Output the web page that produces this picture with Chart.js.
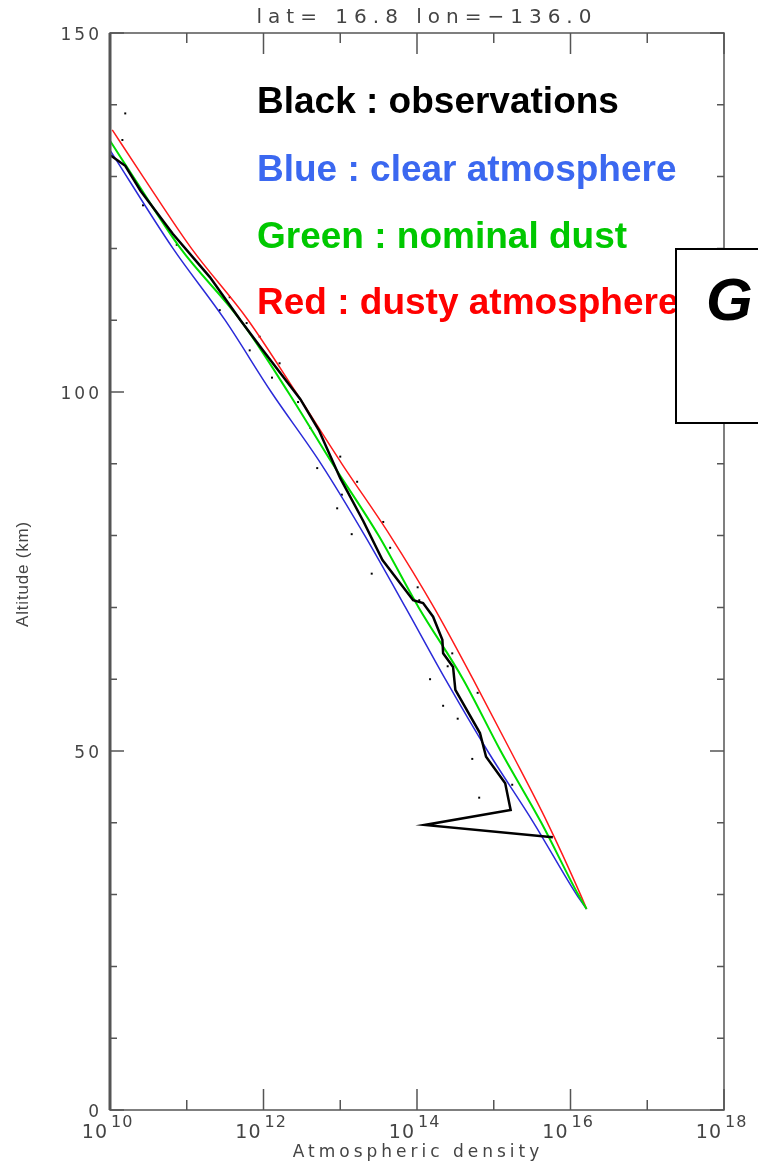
<!DOCTYPE html>
<html>
<head>
<meta charset="utf-8">
<script src="https://cdn.jsdelivr.net/npm/chart.js@4.4.1/dist/chart.umd.min.js"></script>
<style>
  html, body { margin: 0; padding: 0; background: #fff; }
  #wrap { position: relative; width: 758px; height: 1163px; }
</style>
</head>
<body>
<div id="wrap"><canvas id="profile"></canvas></div>
<script>
// altitude (km) / density pairs for each profile
const ALT_RED    = [136.5, 130, 120, 110, 100, 90, 80, 70, 60, 50, 40, 30, 28];
const DENS_RED   = [1.07e10, 2.69e10, 1.15e11, 6.31e11, 2.63e12, 1.05e13, 4.47e13, 1.66e14, 5.37e14, 1.66e15, 5.01e15, 1.35e16, 1.62e16];

const ALT_GREEN  = [135, 130, 120, 110, 100, 90, 80, 70, 60, 50, 40, 30, 28];
const DENS_GREEN = [1.0e10, 2.0e10, 8.3e10, 5.0e11, 2.09e12, 7.94e12, 3.16e13, 1.05e14, 3.98e14, 1.23e15, 4.17e15, 1.26e16, 1.62e16];

const ALT_BLUE   = [133.7, 120, 110, 100, 90, 80, 70, 60, 50, 40, 30, 28];
const DENS_BLUE  = [1.0e10, 6.61e10, 3.16e11, 1.26e12, 5.62e12, 2.09e13, 7.08e13, 2.34e14, 8.32e14, 3.31e15, 1.2e16, 1.62e16];

const ALT_OBS    = [133, 131.5, 128, 122, 116, 110, 106, 99, 94.7, 88, 82, 76.6, 71, 70.6, 68.7, 65.5, 63.6, 61.7, 58.5, 52.5, 49.2, 45.5, 41.8, 39.7, 38];
const DENS_OBS   = [1.0e10, 1.58e10, 2.51e10, 6.61e10, 2.0e11, 5.01e11, 9.55e11, 3.02e12, 5.25e12, 1.0e13, 2.0e13, 3.55e13, 8.91e13, 1.2e14, 1.62e14, 2.14e14, 2.19e14, 2.95e14, 3.16e14, 6.61e14, 7.94e14, 1.41e15, 1.66e15, 1.26e14, 5.89e15];

// individual retrievals (dots)
const ALT_DOTS   = [138.8, 135.1, 126, 120.5, 113.2, 111.4, 109.6, 107.7, 105.8, 104, 102, 98.6, 95, 91, 89.4, 87.5, 85.7, 83.8, 81.9, 80.2, 78.3, 74.7, 72.8, 71, 63.6, 61.8, 60, 58.1, 56.3, 54.5, 52.5, 48.9, 45.3, 43.5];
const DENS_DOTS  = [1.58e10, 1.45e10, 2.69e10, 7.41e10, 3.63e11, 2.69e11, 6.03e11, 8.91e11, 6.61e11, 1.62e12, 1.29e12, 2.82e12, 4.07e12, 1.0e13, 5.01e12, 1.66e13, 1.05e13, 9.12e12, 3.63e13, 1.41e13, 4.47e13, 2.57e13, 1.02e14, 1.07e14, 2.88e14, 2.51e14, 1.48e14, 6.17e14, 2.19e14, 3.39e14, 6.61e14, 5.25e14, 1.74e15, 6.46e14];

const X_MAJOR = [1e10, 1e12, 1e14, 1e16, 1e18];
const X_EXP   = ['10', '12', '14', '16', '18'];
const X_MINOR = [1e11, 1e13, 1e15, 1e17];
const Y_MAJOR = [0, 50, 100, 150];
const Y_MINOR = [10, 20, 30, 40, 60, 70, 80, 90, 110, 120, 130, 140];

const TITLE  = 'lat= 16.8 lon=\u2212136.0';
const XTITLE = 'Atmospheric density';
const YTITLE = 'Altitude (km)';
const LEGEND = [
  ['Black : observations',    '#000000'],
  ['Blue : clear atmosphere', '#3b68f0'],
  ['Green : nominal dust',    '#00c800'],
  ['Red : dusty atmosphere',  '#ff0000'],
];

const pts = (xs, ys) => xs.map((x, i) => ({ x, y: ys[i] }));
const AXIS_FONT = '"DejaVu Sans", sans-serif';

function line(label, xs, ys, color, width, smooth) {
  return {
    label, data: pts(xs, ys), showLine: true, borderColor: color, borderWidth: width,
    pointRadius: 0, fill: false,
    cubicInterpolationMode: smooth ? 'monotone' : 'default', tension: 0,
  };
}

const framePlugin = {
  id: 'frame',
  afterDraw(chart) {
    const { ctx, chartArea: a, scales: { x, y } } = chart;
    ctx.save();

    // box
    ctx.strokeStyle = '#555';
    ctx.lineWidth = 1.5;
    ctx.strokeRect(a.left, a.top, a.right - a.left, a.bottom - a.top);
    ctx.lineWidth = 3;
    ctx.beginPath(); ctx.moveTo(a.left, a.top); ctx.lineTo(a.left, a.bottom); ctx.stroke();

    // inward ticks on all four sides
    ctx.lineWidth = 1.5;
    ctx.beginPath();
    X_MAJOR.forEach(v => {
      const px = x.getPixelForValue(v);
      ctx.moveTo(px, a.bottom); ctx.lineTo(px, a.bottom - 21);
      ctx.moveTo(px, a.top);    ctx.lineTo(px, a.top + 21);
    });
    X_MINOR.forEach(v => {
      const px = x.getPixelForValue(v);
      ctx.moveTo(px, a.bottom); ctx.lineTo(px, a.bottom - 10);
      ctx.moveTo(px, a.top);    ctx.lineTo(px, a.top + 10);
    });
    Y_MAJOR.forEach(v => {
      const py = y.getPixelForValue(v);
      ctx.moveTo(a.left, py);  ctx.lineTo(a.left + 14, py);
      ctx.moveTo(a.right, py); ctx.lineTo(a.right - 14, py);
    });
    Y_MINOR.forEach(v => {
      const py = y.getPixelForValue(v);
      ctx.moveTo(a.left, py);  ctx.lineTo(a.left + 7, py);
      ctx.moveTo(a.right, py); ctx.lineTo(a.right - 7, py);
    });
    ctx.stroke();

    ctx.fillStyle = '#444';

    // y tick labels
    ctx.font = '17px ' + AXIS_FONT;
    ctx.letterSpacing = '3px';
    ctx.textAlign = 'right';
    ctx.textBaseline = 'middle';
    Y_MAJOR.forEach(v => ctx.fillText(String(v), a.left - 8, y.getPixelForValue(v) + 3));

    // x tick labels as 10 with a raised exponent
    ctx.textBaseline = 'alphabetic';
    X_MAJOR.forEach((v, i) => {
      const px = x.getPixelForValue(v);
      ctx.textAlign = 'right';
      ctx.font = '19px ' + AXIS_FONT;
      ctx.letterSpacing = '1px';
      ctx.fillText('10', px - 2, a.bottom + 28);
      ctx.textAlign = 'left';
      ctx.font = '16px ' + AXIS_FONT;
      ctx.fillText(X_EXP[i], px + 1, a.bottom + 17);
    });

    // titles
    ctx.textAlign = 'center';
    ctx.font = '20px ' + AXIS_FONT;
    ctx.letterSpacing = '6px';
    ctx.fillText(TITLE, 427, 23);
    ctx.font = '17px ' + AXIS_FONT;
    ctx.letterSpacing = '4px';
    ctx.fillText(XTITLE, 418, 1157);

    ctx.save();
    ctx.translate(28, 574);
    ctx.rotate(-Math.PI / 2);
    ctx.font = '17px "Liberation Sans", sans-serif';
    ctx.letterSpacing = '0.8px';
    ctx.fillText(YTITLE, 0, 0);
    ctx.restore();
    ctx.letterSpacing = '0px';

    // legend text
    ctx.textAlign = 'left';
    ctx.font = 'bold 37px "Liberation Sans", Arial, sans-serif';
    const bases = [113, 181, 248, 314];
    LEGEND.forEach(([txt, col], i) => {
      ctx.fillStyle = col;
      ctx.fillText(txt, 257, bases[i]);
    });

    // panel label box
    ctx.fillStyle = '#fff';
    ctx.fillRect(676, 249, 90, 174);
    ctx.strokeStyle = '#000';
    ctx.lineWidth = 2;
    ctx.strokeRect(676, 249, 100, 174);
    ctx.fillStyle = '#000';
    ctx.font = 'italic bold 60px "Liberation Sans", Arial, sans-serif';
    ctx.fillText('G', 706, 320);

    ctx.restore();
  }
};

new Chart(document.getElementById('profile'), {
  type: 'scatter',
  data: {
    datasets: [
      line('observations', DENS_OBS, ALT_OBS, '#000000', 2.5, false),
      line('nominal dust', DENS_GREEN, ALT_GREEN, '#00dd00', 2, true),
      line('dusty atmosphere', DENS_RED, ALT_RED, '#ff1a1a', 1.5, true),
      line('clear atmosphere', DENS_BLUE, ALT_BLUE, '#2a2ad8', 1.5, true),
      {
        label: 'retrievals', data: pts(DENS_DOTS, ALT_DOTS), showLine: false,
        pointStyle: 'rect', pointRadius: 1.4, pointBackgroundColor: '#000', pointBorderWidth: 0,
      },
    ],
  },
  options: {
    responsive: true,
    maintainAspectRatio: false,
    animation: false,
    events: [],
    layout: { padding: { top: 33, right: 34, left: 0, bottom: 0 } },
    plugins: { legend: { display: false }, tooltip: { enabled: false }, title: { display: false } },
    scales: {
      x: {
        type: 'logarithmic', min: 1e10, max: 1e18,
        grid: { display: false }, border: { display: false }, ticks: { display: false },
        afterFit: s => { s.height = 53; },
      },
      y: {
        type: 'linear', min: 0, max: 150,
        grid: { display: false }, border: { display: false }, ticks: { display: false },
        afterFit: s => { s.width = 110; },
      },
    },
  },
  plugins: [framePlugin],
});
</script>
</body>
</html>
